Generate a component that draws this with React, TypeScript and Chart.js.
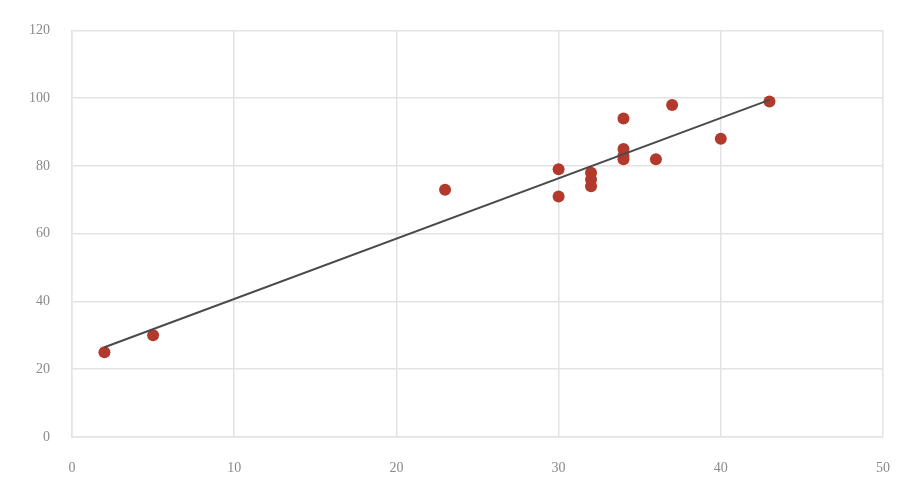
import React, { useEffect, useRef } from "react";
import { Chart, registerables } from "chart.js";

Chart.register(...registerables);

const xValues = [2, 5, 23, 30, 30, 32, 32, 32, 34, 34, 34, 34, 36, 37, 40, 43];
const yValues = [25, 30, 73, 79, 71, 78, 76, 74, 94, 85, 83, 82, 82, 98, 88, 99];
const trendX = [2, 43];
const trendY = [26.5, 99.5];

export default function App() {
  const ref = useRef<HTMLCanvasElement | null>(null);
  useEffect(() => {
    document.body.style.margin = "0";
    const ctx = ref.current!;
    const chart = new Chart(ctx, {
      type: "scatter",
      data: {
        datasets: [
          {
            type: "line",
            data: trendX.map((x, i) => ({ x, y: trendY[i] })),
            borderColor: "#4a4a4a",
            borderWidth: 2,
            pointRadius: 0,
            order: 0,
          },
          {
            data: xValues.map((x, i) => ({ x, y: yValues[i] })),
            backgroundColor: "#b23a2c",
            borderColor: "#b23a2c",
            borderWidth: 0,
            pointRadius: 6,
            order: 1,
          },
        ],
      },
      options: {
        animation: false,
        responsive: false,
        maintainAspectRatio: false,
        layout: { padding: { top: 22, right: 16, left: 0, bottom: 0 } },
        plugins: { legend: { display: false }, tooltip: { enabled: false } },
        scales: {
          x: {
            type: "linear",
            min: 0,
            max: 50,
            ticks: { stepSize: 10, color: "#8a8a8a", padding: 23, font: { family: "Liberation Serif", size: 14 } },
            grid: { color: "#e3e3e3", lineWidth: 1.5, drawTicks: false },
            border: { color: "#e3e3e3", width: 1.5 },
            afterFit: (s: any) => { s.height = 40; },
          },
          y: {
            min: 0,
            max: 120,
            ticks: { stepSize: 20, color: "#8a8a8a", padding: 22, font: { family: "Liberation Serif", size: 14 } },
            grid: { color: "#e3e3e3", lineWidth: 1.5, drawTicks: false },
            border: { color: "#e3e3e3", width: 1.5 },
            afterFit: (s: any) => { s.width = 72; },
          },
        },
      },
    });
    return () => chart.destroy();
  }, []);
  return (
    <div style={{ width: 913, height: 477, background: "#fff" }}>
      <canvas ref={ref} width={913} height={477} style={{ display: "block" }} />
    </div>
  );
}
